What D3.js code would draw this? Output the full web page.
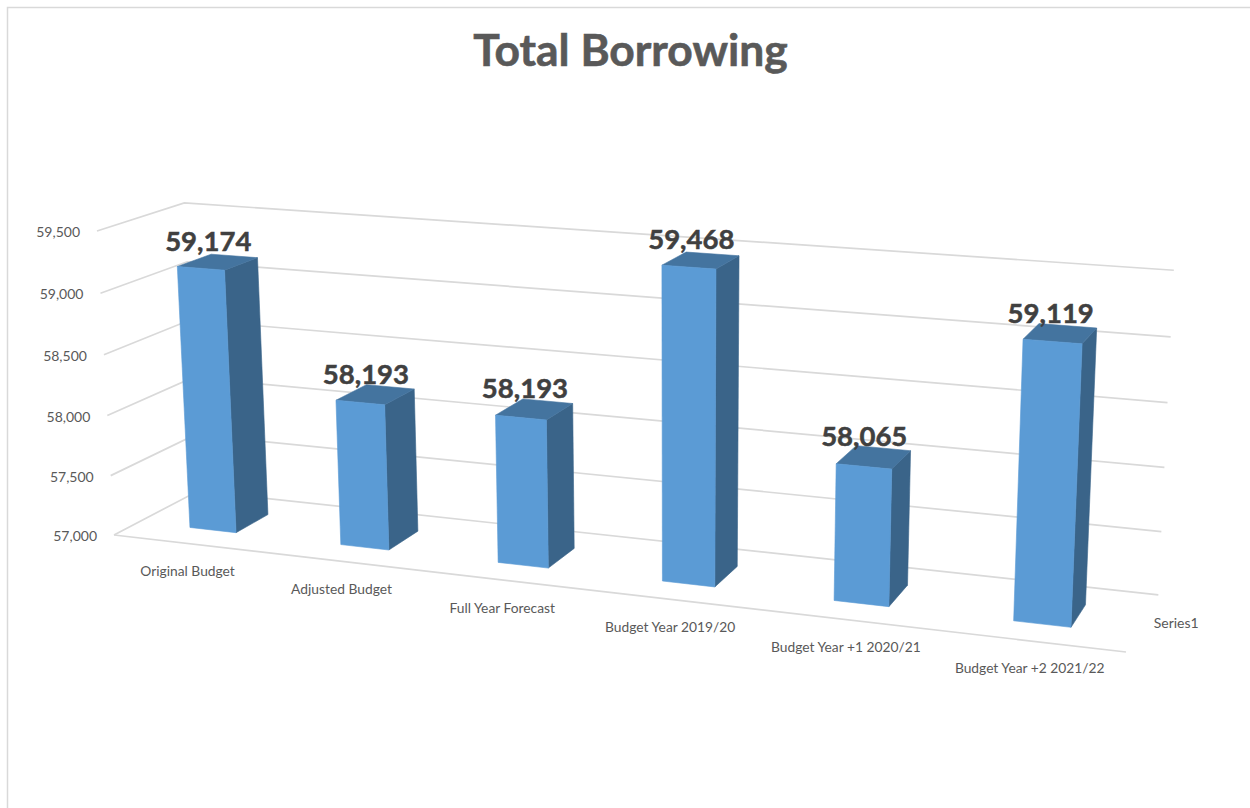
<!DOCTYPE html>
<html>
<head>
<meta charset="utf-8">
<title>Total Borrowing</title>
<script src="https://cdn.jsdelivr.net/npm/d3@7/dist/d3.min.js"></script>
<style>
  html, body { margin: 0; padding: 0; background: #fff; }
  svg { display: block; }
  text { font-family: Lato, "Open Sans", sans-serif; }
</style>
</head>
<body>
<svg id="chart" width="1250" height="808"></svg>
<script>
// Chart content
const chartTitle = "Total Borrowing";
const categories = ["Original Budget", "Adjusted Budget", "Full Year Forecast",
                    "Budget Year 2019/20", "Budget Year +1 2020/21", "Budget Year +2 2021/22"];
const values = [59174, 58193, 58193, 59468, 58065, 59119];
const valueTicks = [57000, 57500, 58000, 58500, 59000, 59500];
const seriesName = "Series1";

// Perspective camera: screen images of the plot-box corners, plus the
// depth divisor for each world axis (world coordinates run 0..1).
const origin = [114, 535], xEnd = [1126, 652], yEnd = [97, 231], zEnd = [198, 491];
const persp = { x: -0.125, y: -0.0292, z: 0.058 };

function project(x, y, z) {
  const w = 1 + persp.x * x + persp.y * y + persp.z * z;
  return [0, 1].map(i => (
    origin[i]
    + (xEnd[i] * (1 + persp.x) - origin[i]) * x
    + (yEnd[i] * (1 + persp.y) - origin[i]) * y
    + (zEnd[i] * (1 + persp.z) - origin[i]) * z
  ) / w);
}

// Data scales into world coordinates
const xBand = d3.scaleBand().domain(categories).range([0, 1]);
const barWidth = xBand.bandwidth() * 0.31;
const yScale = d3.scaleLinear().domain([57000, 59500]).range([0, 1]);
const barDepth = [0.29, 0.69];
const formatValue = d3.format(",");

const svg = d3.select("#chart");
const path = d3.line();
const gridColor = "#d9d9d9";
const textColor = "#595959";

// Chart area outline
svg.append("path")
  .attr("d", "M7.5,808V7.5H1250")
  .attr("fill", "none").attr("stroke", gridColor).attr("stroke-width", 1.5);

svg.append("text")
  .attr("x", 630.5).attr("y", 66)
  .attr("text-anchor", "middle")
  .attr("font-size", 44.4).attr("font-weight", 700)
  .attr("fill", textColor).attr("stroke", textColor).attr("stroke-width", 0.6)
  .text(chartTitle);

// Gridlines run along the side wall, then across the back wall
const grid = svg.append("g").attr("fill", "none").attr("stroke", gridColor).attr("stroke-width", 1.7);
grid.selectAll("path.wall").data(valueTicks).join("path")
  .attr("class", "wall")
  .attr("d", t => path([project(0, yScale(t), 0), project(0, yScale(t), 1), project(1, yScale(t), 1)]));
grid.append("path").attr("d", path([project(0, 0, 0), project(1, 0, 0)]));

// Value axis labels
svg.append("g").selectAll("text").data(valueTicks).join("text")
  .attr("x", t => project(0, yScale(t), 0)[0] - 17)
  .attr("y", t => project(0, yScale(t), 0)[1] + 6)
  .attr("text-anchor", "end")
  .attr("font-size", 14).attr("fill", textColor)
  .text(formatValue);

// Category labels under the front edge of the floor
svg.append("g").selectAll("text").data(categories).join("text")
  .attr("x", c => project(xBand(c) + xBand.bandwidth() / 2, 0, 0)[0] - 1)
  .attr("y", c => project(xBand(c) + xBand.bandwidth() / 2, 0, 0)[1] + 32.5)
  .attr("text-anchor", "middle")
  .attr("font-size", 13.8).attr("fill", textColor)
  .text(c => c);

// Series label at the end of the depth axis
const seriesAnchor = project(1, 0, 0.5);
svg.append("text")
  .attr("x", seriesAnchor[0] + 11).attr("y", seriesAnchor[1] + 6)
  .attr("font-size", 14).attr("fill", textColor)
  .text(seriesName);

// Columns as three visible faces
const bars = categories.map((c, i) => ({
  category: c,
  value: values[i],
  x0: xBand(c) + xBand.bandwidth() / 2 - barWidth / 2,
  x1: xBand(c) + xBand.bandwidth() / 2 + barWidth / 2,
  h: yScale(values[i])
}));
const [z0, z1] = barDepth;
const faces = [
  { fill: "#3a6489", corners: b => [[b.x1, 0, z0], [b.x1, 0, z1], [b.x1, b.h, z1], [b.x1, b.h, z0]] },
  { fill: "#44749f", corners: b => [[b.x0, b.h, z0], [b.x1, b.h, z0], [b.x1, b.h, z1], [b.x0, b.h, z1]] },
  { fill: "#5b9bd5", corners: b => [[b.x0, 0, z0], [b.x1, 0, z0], [b.x1, b.h, z0], [b.x0, b.h, z0]] }
];
const barGroups = svg.append("g").selectAll("g").data(bars).join("g");
faces.forEach(f => {
  barGroups.append("path")
    .attr("d", b => path(f.corners(b).map(p => project(...p))) + "Z")
    .attr("fill", f.fill)
    .attr("stroke", f.fill).attr("stroke-width", 0.6);
});

// Value labels sit above the centre of each column's top face
svg.append("g").selectAll("text").data(bars).join("text")
  .attr("x", b => project((b.x0 + b.x1) / 2, b.h, (z0 + z1) / 2)[0] - 9.5)
  .attr("y", b => project((b.x0 + b.x1) / 2, b.h, (z0 + z1) / 2)[1] - 11)
  .attr("text-anchor", "middle")
  .attr("font-size", 27.5).attr("font-weight", 700)
  .attr("fill", "#404040").attr("stroke", "#404040").attr("stroke-width", 0.5)
  .text(b => formatValue(b.value));
</script>
</body>
</html>
